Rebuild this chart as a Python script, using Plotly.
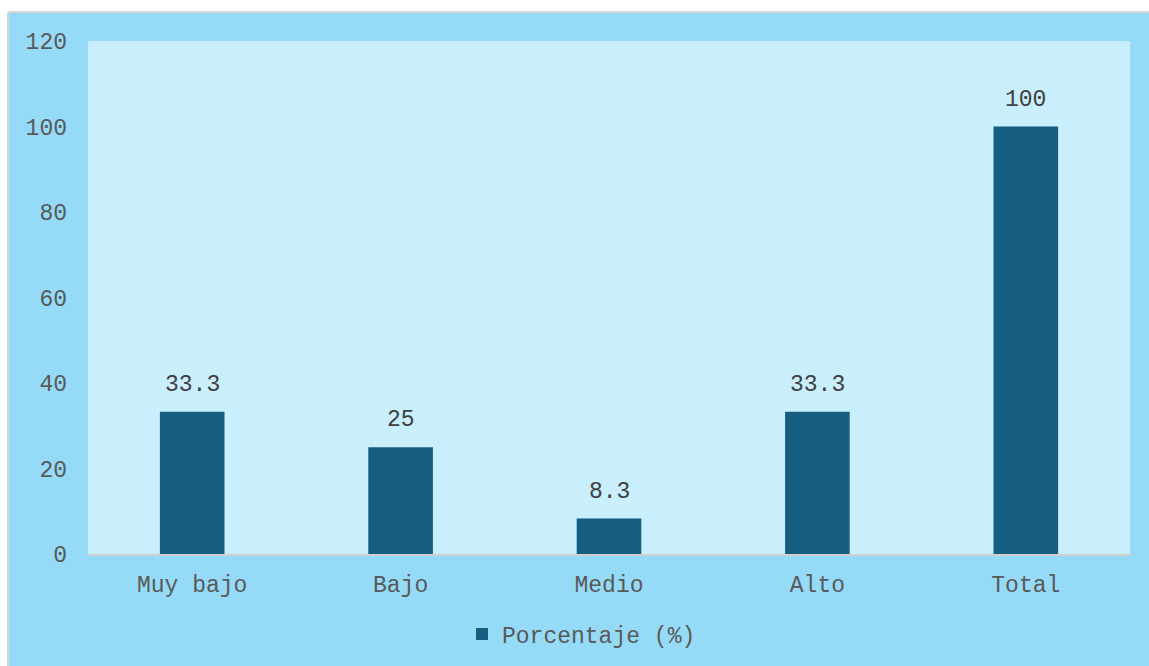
import plotly.graph_objects as go

categories = ["Muy bajo", "Bajo", "Medio", "Alto", "Total"]
porcentaje = [33.3, 25, 8.3, 33.3, 100]
y_ticks = [0, 20, 40, 60, 80, 100, 120]

FONT = "Liberation Mono, Courier New, monospace"
W, H = 1149, 666
L, R, T, B = 88, 19, 41, 111
pw, ph = W - L - R, H - T - B

fig = go.Figure()
fig.add_trace(go.Bar(
    x=categories,
    y=porcentaje,
    name="Porcentaje (%)",
    marker=dict(color="#155E80", line=dict(width=0)),
))

# value labels above each bar
for cat, val in zip(categories, porcentaje):
    fig.add_annotation(x=cat, y=val, text=f"{val:g}", showarrow=False,
                       yanchor="bottom", yshift=12,
                       font=dict(family=FONT, size=23, color="#404040"))

# white page strip on the left and top, with a thin grey border around the chart panel
x0 = (8 - L) / pw
y1 = (H - B - 12) / ph
fig.add_shape(type="rect", xref="paper", yref="paper", x0=-1, x1=x0, y0=-1, y1=2,
              fillcolor="white", line=dict(width=0), layer="below")
fig.add_shape(type="rect", xref="paper", yref="paper", x0=-1, x1=2, y0=y1, y1=2,
              fillcolor="white", line=dict(width=0), layer="below")
fig.add_shape(type="line", xref="paper", yref="paper", x0=x0, x1=x0, y0=-1, y1=y1,
              line=dict(color="#D6D6D6", width=2))
fig.add_shape(type="line", xref="paper", yref="paper", x0=x0, x1=2, y0=y1, y1=y1,
              line=dict(color="#D6D6D6", width=2))

fig.update_layout(
    width=W, height=H,
    margin=dict(l=L, r=R, t=T, b=B),
    paper_bgcolor="#95DBF7",
    plot_bgcolor="#C9EEFC",
    bargap=0.69,
    font=dict(family=FONT, color="#595959", size=23),
    showlegend=True,
    legend=dict(orientation="h", x=(462 - L) / pw, xanchor="left",
                y=-79 / ph, yanchor="middle",
                font=dict(family=FONT, size=23, color="#595959"),
                bgcolor="rgba(0,0,0,0)"),
    xaxis=dict(showgrid=False, showline=True, linecolor="#D0D0D0", linewidth=2,
               ticks="", ticklabelstandoff=8,
               tickfont=dict(family=FONT, size=23, color="#595959")),
    yaxis=dict(range=[0, 120], tickvals=y_ticks, showgrid=False, zeroline=False,
               showline=False, ticks="", ticklabelstandoff=20,
               tickfont=dict(family=FONT, size=23, color="#595959")),
)

fig.write_html("out.html")
